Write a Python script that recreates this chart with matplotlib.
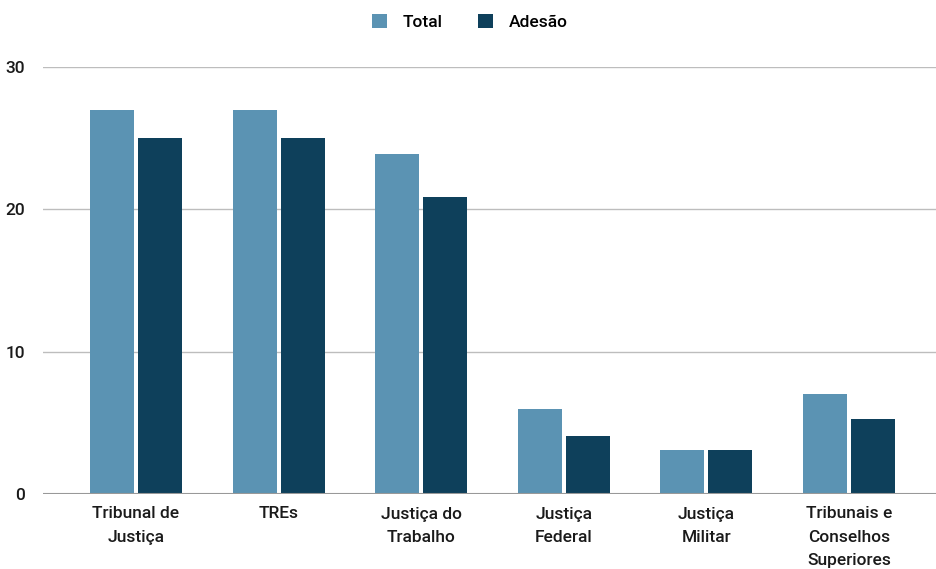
import numpy as np
import matplotlib
matplotlib.use("Agg")
import matplotlib.pyplot as plt

plt.rcParams['font.family'] = ['Roboto', 'DejaVu Sans']
plt.rcParams['font.weight'] = 500

categories = ["Tribunal de\nJustiça", "TREs", "Justiça do\nTrabalho", "Justiça\nFederal",
              "Justiça\nMilitar", "Tribunais e\nConselhos\nSuperiores"]
total = [27, 27, 23.9, 6, 3.1, 7]
adesao = [25, 25, 20.9, 4.1, 3.1, 5.3]
yticks = [0, 10, 20, 30]

c_total = "#5b93b3"
c_adesao = "#0e405b"

fig = plt.figure(figsize=(9.36, 5.69), dpi=100)
ax = fig.add_axes([43 / 936, 75 / 569, 1 - 43 / 936, 427 / 569])

x = np.arange(len(categories))
w = 0.309
off = 0.168
ax.bar(x - off, total, w, color=c_total, label="Total", zorder=3)
ax.bar(x + off, adesao, w, color=c_adesao, label="Adesão", zorder=3)

ax.set_xlim(-0.652, 5.61)
ax.set_ylim(0, 30)
ax.set_yticks(yticks)
ax.set_yticklabels([str(v) for v in yticks], fontsize=12.5)
ax.grid(axis="y", color="#bdbdbd", linewidth=1, zorder=0)
ax.axhline(0, color="#999999", linewidth=1.5, zorder=4)

ax.set_xticks(x)
ax.set_xticklabels(categories, fontsize=12.5, linespacing=1.68, va="top")
ax.tick_params(axis="both", length=0, labelcolor="#1a1a1a")
ax.tick_params(axis="y", pad=13)
ax.tick_params(axis="x", pad=9)
for s in ax.spines.values():
    s.set_visible(False)

fig.legend(loc="upper center", bbox_to_anchor=(0.502, 1.003), ncol=2, frameon=False,
           fontsize=12.5, handlelength=0.9, handleheight=0.9, handletextpad=0.9,
           columnspacing=2.0)

fig.savefig("out.png", dpi=100)
